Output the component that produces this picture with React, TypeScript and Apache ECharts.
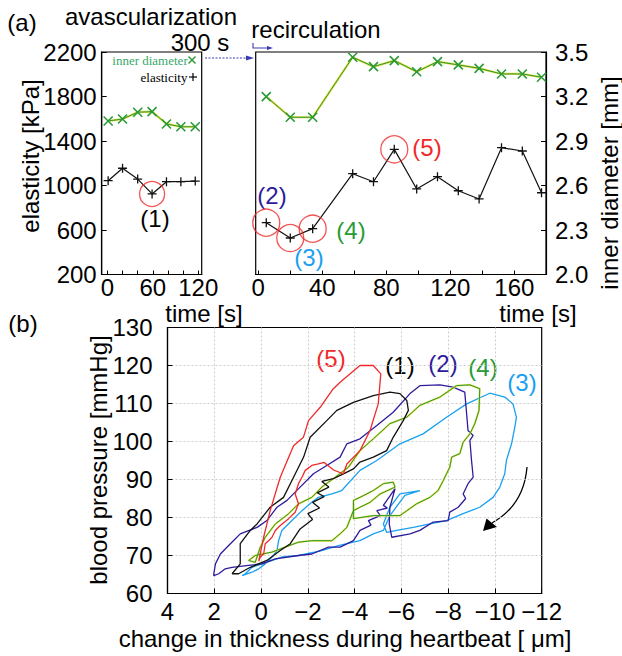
import React, { useEffect, useRef } from 'react';
import * as echarts from 'echarts';

// ---------- panel (a) data ----------
const timeA = [1, 20, 40, 59, 78, 97, 116];
const elasticityA = [1043, 1155, 1058, 924, 1034, 1034, 1040];
const diameterA = [3.035, 3.048, 3.094, 3.098, 3.015, 2.996, 2.996];
const circledA = [3];

const timeB = [5, 20, 34, 59, 72, 85, 99, 112, 125, 138, 152, 165, 177];
const elasticityB = [666, 528, 612, 1106, 1034, 1325, 969, 1079, 953, 879, 1340, 1310, 935];
const diameterB = [3.199, 3.06, 3.06, 3.465, 3.401, 3.442, 3.367, 3.435, 3.413, 3.39, 3.352, 3.352, 3.33];
const circledB = [0, 1, 2, 5];

const timeTicksA = [0, 20, 40, 60, 80, 100, 120];
const timeLabelsA = [0, 60, 120];
const timeTicksB = [0, 20, 40, 60, 80, 100, 120, 140, 160];
const timeLabelsB = [0, 40, 80, 120, 160];

// ---------- panel (b) data: [thickness change (um), blood pressure (mmHg)] ----------
const loop1 = [
  [1.24, 65.2], [0.89, 67.8], [0.89, 73.1], [0.46, 76.6], [0.17, 78.3], [-0.39, 82.7], [-0.96, 85.3],
  [-1.39, 90.6], [-1.82, 95.9], [-2.1, 101.1], [-2.81, 105.5], [-3.24, 108.2], [-3.95, 110.3],
  [-4.8, 112.1], [-5.51, 113], [-5.94, 112.6], [-6.23, 110.8], [-6.3, 108.2], [-6.08, 105.5],
  [-5.65, 101.1], [-5.37, 97.6], [-4.8, 95.9], [-4.23, 94.6], [-3.95, 92.8], [-3.52, 91.5],
  [-3.09, 90.2], [-2.6, 89.5], [-2.9, 88], [-2.4, 86.5], [-2.7, 85.5], [-2.2, 84], [-2.5, 82.5],
  [-2.0, 81], [-2.2, 79.5], [-1.67, 77], [-1.25, 73.1], [-0.82, 71.3], [-0.25, 68.7], [0.46, 66.9],
  [0.96, 65.2], [1.24, 65.2],
];
const loop2 = [
  [2.02, 65.2], [1.95, 67.8], [1.74, 70.4], [1.31, 73.1], [0.89, 75.7], [0.17, 77.4], [-0.25, 79.2],
  [-0.68, 82.7], [-1.11, 84.5], [-1.67, 88], [-2.24, 91.5], [-2.81, 93.7], [-3.38, 95.9],
  [-3.67, 99.4], [-4.23, 100.7], [-4.95, 104.2], [-5.65, 107.7], [-6.37, 112.6], [-6.79, 114.7],
  [-7.65, 114.9], [-8.21, 114.3], [-8.71, 113], [-8.79, 107.3], [-8.85, 102.9], [-9.07, 101.6],
  [-8.93, 100.3], [-9.0, 95], [-9.07, 90.6], [-8.85, 88.9], [-8.64, 86.2], [-8.75, 85], [-8.43, 82.7],
  [-8.07, 81.4], [-8.0, 79.2], [-7.36, 78.8], [-6.79, 76.6], [-6.37, 75.7], [-5.59, 74.8],
  [-5.48, 78.3], [-5.51, 82.7], [-5.73, 87.6], [-5.23, 83.2], [-5.4, 82.5], [-4.95, 81.8],
  [-5.1, 80.5], [-4.59, 79.2], [-4.7, 78], [-4.23, 76.6], [-3.95, 73.9], [-3.38, 72.2],
  [-2.88, 72.2], [-2.17, 70.4], [-1.6, 70], [-0.61, 69.1], [-0.04, 67.8], [0.53, 67.4],
  [1.24, 66.9], [1.53, 66.5], [1.81, 65.2], [2.02, 64.7], [2.02, 65.2],
];
const loop3 = [
  [0.81, 64.7], [0.39, 65.6], [0.1, 66.5], [-0.18, 67.8], [-0.47, 69.6], [-0.68, 71.3], [-0.75, 73.9],
  [-0.89, 76.6], [-1.32, 79.2], [-1.75, 81.8], [-2.17, 84], [-2.45, 85.3], [-3.03, 86.2], [-3.45, 87.1],
  [-4.23, 92.4], [-4.95, 95], [-5.94, 99.4], [-6.93, 102], [-7.93, 106.4], [-8.79, 109.9],
  [-9.78, 112.7], [-10.42, 111.7], [-10.77, 109.9], [-10.92, 106.4], [-10.85, 103.8],
  [-10.71, 99.4], [-10.49, 95], [-10.42, 91.5], [-10.21, 88], [-9.92, 85.3], [-9.35, 82.7],
  [-8.64, 81], [-7.93, 79.2], [-7.22, 78.3], [-6.51, 77.4], [-5.8, 76.6], [-5.37, 76.1],
  [-5.23, 78.3], [-5.51, 82.7], [-5.94, 86.2], [-6.79, 87.1], [-6.15, 85.8], [-5.51, 80.5],
  [-5.23, 76.6], [-4.8, 75.7], [-4.23, 73.9], [-3.67, 73.1], [-3.31, 72.6], [-2.6, 71.3],
  [-1.6, 70], [-0.89, 69.6], [-0.04, 67.8], [0.39, 66.9], [0.67, 65.2], [0.81, 64.7],
];
const loop4 = [
  [0.25, 68.2], [0.03, 72.2], [-0.18, 74.8], [-0.61, 78.3], [-1.18, 81], [-1.6, 83.6], [-2.17, 85.3],
  [-2.6, 88], [-3.17, 90.6], [-3.73, 93.2], [-4.23, 97.6], [-4.8, 100.7], [-5.51, 104.7],
  [-6.23, 106.4], [-6.79, 109.5], [-7.65, 111.7], [-8.36, 114.7], [-8.93, 114.9], [-9.35, 113.9],
  [-9.32, 108.2], [-9.14, 104.7], [-8.93, 102], [-8.64, 99.8], [-8.5, 96.8], [-8.15, 95.9],
  [-8.07, 93.2], [-7.93, 91.5], [-7.79, 89.7], [-7.57, 87.1], [-7.22, 85.3], [-6.65, 83.6],
  [-5.94, 80.5], [-4.8, 80.5], [-3.95, 79.7], [-3.95, 84.5], [-4.23, 85.3], [-4.8, 87.1],
  [-5.23, 88.9], [-5.65, 89.3], [-5.73, 88], [-5.09, 86.2], [-4.66, 84], [-4.23, 82.7],
  [-3.95, 81.8], [-3.67, 77.4], [-3.38, 75.7], [-3.03, 73.9], [-2.17, 73.9], [-1.6, 73.5],
  [-1.03, 72.2], [-0.47, 70.9], [0.25, 70], [0.53, 68.7], [0.25, 68.2],
];
const loop5 = [
  [0.1, 68.5], [-0.11, 74.8], [-0.39, 81.8], [-0.82, 90.6], [-1.39, 98.9], [-1.81, 101.1],
  [-2.03, 105.5], [-2.53, 109], [-3.09, 113.9], [-3.38, 115.6], [-4.23, 120], [-4.8, 120],
  [-5.12, 117.8], [-5.01, 109.9], [-4.66, 102.9], [-4.23, 97.6], [-3.67, 94.1], [-3.52, 91.5],
  [-3.1, 92.5], [-2.7, 94.5], [-2.45, 94.1], [-2.17, 93.7], [-1.89, 92.4], [-1.75, 90.6],
  [-1.6, 88.9], [-1.46, 86.2], [-1.6, 83.6], [-1.46, 81.4], [-1.18, 79.7], [-0.82, 77.9],
  [-0.61, 76.6], [-0.47, 74.8], [-0.32, 73.9], [-0.18, 73.1], [-0.11, 70.4], [0.03, 69.6], [0.1, 68.5],
];

const FONT = "'Liberation Sans', Arial, Helvetica, sans-serif";
const SERIF = "'Liberation Serif', 'Times New Roman', serif";
const C_BLACK = '#111111';
const C_PURPLE = '#2e1c9c';
const C_LBLUE = '#1aa0f0';
const C_GREEN = '#2a9a36';
const C_YELLOW = '#e4dc3a';
const C_RED = '#f02a2a';
const C_ARROW = '#3a3ab0';

const CROSS = 'path://M0 0L10 10M10 0L0 10';
const PLUS = 'path://M5 0L5 10M0 5L10 5';

function txt(text: string, x: number, y: number, size: number, fill: string, extra: any = {}) {
  const { family, ...rest } = extra;
  return {
    type: 'text',
    x,
    y,
    silent: true,
    ...rest,
    style: {
      text,
      font: `${size}px ${family || FONT}`,
      fill,
      align: 'center',
      verticalAlign: 'middle',
      textAlign: 'center',
      textVerticalAlign: 'middle',
    },
  };
}

function seg(x1: number, y1: number, x2: number, y2: number, stroke: string, lineWidth = 1.4) {
  return { type: 'line', silent: true, shape: { x1, y1, x2, y2 }, style: { stroke, lineWidth } };
}

export default function App() {
  const ref = useRef<HTMLDivElement>(null);

  useEffect(() => {
    if (!ref.current) return;
    const chart = echarts.init(ref.current, null, { renderer: 'svg' });

    const tickLabel = { fontFamily: FONT, fontSize: 24, color: '#000' };
    const axisLine = { show: true, onZero: false, lineStyle: { color: '#000', width: 1.2 } };
    const minus = (v: number) => (v < 0 ? '\u2212' + Math.abs(v) : String(v));
    const plain = (v: number) => String(v);
    const grid2Split = { show: true, showMinLine: false, showMaxLine: false, lineStyle: { color: '#cccccc', type: [2, 2], width: 1 } };

    const pairs = (xs: number[], ys: number[]) => xs.map((x, i) => [x, ys[i]]);

    const loopSeries = (data: number[][], color: string, z: number, width = 1.3) => ({
      type: 'line',
      xAxisIndex: 2,
      yAxisIndex: 4,
      data,
      showSymbol: false,
      symbol: 'none',
      smooth: false,
      z,
      lineStyle: { color, width },
    });

    const option: any = {
      animation: false,
      backgroundColor: '#ffffff',
      grid: [
        { left: 101.7, top: 52, width: 100, height: 222.5, show: true, borderColor: '#000', borderWidth: 1.2, backgroundColor: 'transparent' },
        { left: 255.7, top: 52, width: 290.3, height: 222.5, show: true, borderColor: '#000', borderWidth: 1.2, backgroundColor: 'transparent' },
        { left: 167.5, top: 327.5, width: 374.2, height: 266, show: true, borderColor: '#000', borderWidth: 1.2, backgroundColor: 'transparent' },
      ],
      xAxis: [
        {
          type: 'value', gridIndex: 0, min: -7.5, max: 124.5,
          axisLine, splitLine: { show: false },
          axisTick: { show: true, inside: true, length: 4, customValues: timeTicksA, lineStyle: { color: '#000' } },
          axisLabel: { ...tickLabel, margin: 1, customValues: timeLabelsA, formatter: plain },
        },
        {
          type: 'value', gridIndex: 1, min: -1.6, max: 179.8,
          axisLine, splitLine: { show: false },
          axisTick: { show: true, inside: true, length: 4, customValues: timeTicksB, lineStyle: { color: '#000' } },
          axisLabel: { ...tickLabel, margin: 1, customValues: timeLabelsB, formatter: plain },
        },
        {
          type: 'value', gridIndex: 2, min: -12, max: 4, interval: 2, inverse: true,
          axisLine,
          axisTick: { show: true, inside: true, length: 5, lineStyle: { color: '#000' } },
          splitLine: grid2Split,
          axisLabel: { ...tickLabel, margin: 6, formatter: minus },
        },
      ],
      yAxis: [
        {
          type: 'value', gridIndex: 0, min: 200, max: 2200, interval: 400,
          axisLine, splitLine: { show: false },
          axisTick: { show: true, inside: true, length: 5, lineStyle: { color: '#000' } },
          axisLabel: { ...tickLabel, margin: 5, formatter: plain },
        },
        { type: 'value', gridIndex: 0, min: 2.0, max: 3.5, show: false, splitLine: { show: false } },
        { type: 'value', gridIndex: 1, min: 200, max: 2200, show: false, splitLine: { show: false } },
        {
          type: 'value', gridIndex: 1, min: 2.0, max: 3.5, interval: 0.3, position: 'right',
          axisLine, splitLine: { show: false },
          axisTick: { show: true, inside: true, length: 5, lineStyle: { color: '#000' } },
          axisLabel: { ...tickLabel, margin: 9, formatter: (v: number) => v.toFixed(1) },
        },
        {
          type: 'value', gridIndex: 2, min: 60, max: 130, interval: 10,
          axisLine,
          axisTick: { show: true, inside: true, length: 5, lineStyle: { color: '#000' } },
          splitLine: grid2Split,
          axisLabel: { ...tickLabel, margin: 15, formatter: plain },
        },
      ],
      series: [
        // panel (a) left
        { type: 'line', xAxisIndex: 0, yAxisIndex: 1, data: pairs(timeA, diameterA), symbol: 'none', lineStyle: { color: C_YELLOW, width: 2.2 }, z: 2 },
        {
          type: 'line', xAxisIndex: 0, yAxisIndex: 1, data: pairs(timeA, diameterA), symbol: CROSS, symbolSize: 9,
          itemStyle: { color: 'rgba(0,0,0,0)', borderColor: C_GREEN, borderWidth: 1.6 },
          lineStyle: { color: C_GREEN, width: 1 }, z: 3,
        },
        {
          type: 'line', xAxisIndex: 0, yAxisIndex: 0, data: pairs(timeA, elasticityA), symbol: PLUS, symbolSize: 9,
          itemStyle: { color: 'rgba(0,0,0,0)', borderColor: C_BLACK, borderWidth: 1.3 },
          lineStyle: { color: C_BLACK, width: 1.2 }, z: 3,
        },
        {
          type: 'scatter', xAxisIndex: 0, yAxisIndex: 0,
          data: circledA.map((i) => [timeA[i], elasticityA[i]]),
          symbol: 'circle', symbolSize: 25,
          itemStyle: { color: 'rgba(0,0,0,0)', borderColor: C_RED, borderWidth: 1.3 }, z: 4,
        },
        // panel (a) right
        { type: 'line', xAxisIndex: 1, yAxisIndex: 3, data: pairs(timeB, diameterB), symbol: 'none', lineStyle: { color: C_YELLOW, width: 2.2 }, z: 2 },
        {
          type: 'line', xAxisIndex: 1, yAxisIndex: 3, data: pairs(timeB, diameterB), symbol: CROSS, symbolSize: 9,
          itemStyle: { color: 'rgba(0,0,0,0)', borderColor: C_GREEN, borderWidth: 1.6 },
          lineStyle: { color: C_GREEN, width: 1 }, z: 3,
        },
        {
          type: 'line', xAxisIndex: 1, yAxisIndex: 2, data: pairs(timeB, elasticityB), symbol: PLUS, symbolSize: 9,
          itemStyle: { color: 'rgba(0,0,0,0)', borderColor: C_BLACK, borderWidth: 1.3 },
          lineStyle: { color: C_BLACK, width: 1.2 }, z: 3,
        },
        {
          type: 'scatter', xAxisIndex: 1, yAxisIndex: 2,
          data: circledB.map((i) => [timeB[i], elasticityB[i]]),
          symbol: 'circle', symbolSize: 27,
          itemStyle: { color: 'rgba(0,0,0,0)', borderColor: C_RED, borderWidth: 1.3 }, z: 4,
        },
        // panel (b)
        loopSeries(loop3, C_LBLUE, 3),
        loopSeries(loop2, C_PURPLE, 4),
        loopSeries(loop4, C_YELLOW, 5, 1.9),
        loopSeries(loop4, C_GREEN, 6, 1),
        loopSeries(loop1, C_BLACK, 7),
        loopSeries(loop5, C_RED, 8),
      ],
      graphic: [
        txt('(a)', 22, 22, 24, '#000'),
        txt('avascularization', 151, 16, 24, '#000'),
        txt('300 s', 200, 42, 24, '#000'),
        txt('recirculation', 316, 29, 24, '#000'),
        { type: 'line', silent: true, shape: { x1: 205, y1: 58, x2: 248, y2: 58 }, style: { stroke: C_ARROW, lineWidth: 1.2, lineDash: [2, 1.5] } },
        { type: 'polygon', silent: true, shape: { points: [[254, 58], [246, 55.5], [246, 60.5]] }, style: { fill: C_ARROW } },
        { type: 'polyline', silent: true, shape: { points: [[253, 43], [253, 48], [268, 48]] }, style: { stroke: C_ARROW, lineWidth: 1.1, fill: 'none' } },
        { type: 'polygon', silent: true, shape: { points: [[273, 48], [267, 46], [267, 50]] }, style: { fill: C_ARROW } },
        // legend inside left panel
        txt('inner diameter', 150, 60, 13, '#3aa86a', { family: SERIF }),
        seg(188.5, 56.5, 195.5, 63.5, C_GREEN),
        seg(188.5, 63.5, 195.5, 56.5, C_GREEN),
        txt('elasticity', 164, 77, 13, '#000', { family: SERIF }),
        seg(193, 73, 193, 81, '#000', 1.2),
        seg(189, 77, 197, 77, '#000', 1.2),
        // panel (a) annotations
        txt('(1)', 155, 218, 24, '#000'),
        txt('(2)', 272, 195, 24, C_PURPLE),
        txt('(3)', 309, 257, 24, C_LBLUE),
        txt('(4)', 351, 230, 24, C_GREEN),
        txt('(5)', 427, 147, 24, C_RED),
        // axis titles (a)
        txt('elasticity [kPa]', 30, 156, 24, '#000', { rotation: Math.PI / 2 }),
        txt('time [s]', 204, 313, 24, '#000'),
        txt('time [s]', 538, 313, 24, '#000'),
        txt('inner diameter [mm]', 609, 183, 24, '#000', { rotation: Math.PI / 2 }),
        // panel (b)
        txt('(b)', 23, 323, 24, '#000'),
        txt('(5)', 331, 358, 24, C_RED),
        txt('(1)', 400, 365, 24, '#000'),
        txt('(2)', 443, 363, 24, C_PURPLE),
        txt('(4)', 483, 367, 24, C_GREEN),
        txt('(3)', 522, 382, 24, C_LBLUE),
        txt('blood pressure [mmHg]', 98, 460, 24, '#000', { rotation: Math.PI / 2 }),
        txt('change in thickness during heartbeat [ \u03bcm]', 345, 638, 24, '#000'),
        { type: 'bezierCurve', silent: true, shape: { x1: 527, y1: 467, x2: 492, y2: 523, cpx1: 524, cpy1: 505 }, style: { stroke: '#000', lineWidth: 1.3, fill: 'none' } },
        { type: 'polygon', silent: true, shape: { points: [[483, 531], [486.5, 518.5], [497, 527]] }, style: { fill: '#000' } },
      ],
    };

    chart.setOption(option);
    return () => chart.dispose();
  }, []);

  return (
    <div
      ref={ref}
      style={{ position: 'absolute', left: 0, top: 0, width: 622, height: 656, background: '#fff' }}
    />
  );
}
